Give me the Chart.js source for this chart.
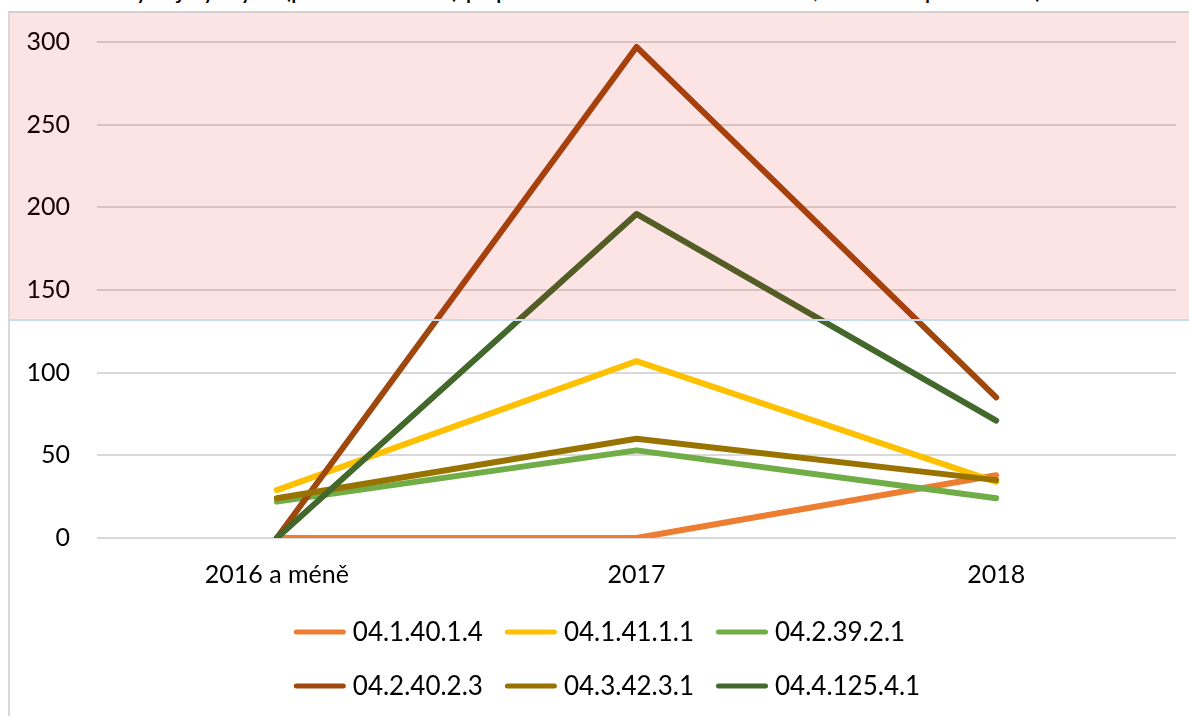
<!DOCTYPE html>
<html lang="cs">
<head>
<meta charset="UTF-8">
<title>Graf</title>
<script src="https://cdn.jsdelivr.net/npm/chart.js@4.4.0/dist/chart.umd.min.js"></script>
<style>
  html, body { margin: 0; padding: 0; background: #fff; overflow: hidden; }
  #wrap { position: absolute; left: 0; top: 0; width: 1189px; height: 716px; }
  #frame { position: absolute; left: 8px; top: 11px; right: -10px; bottom: -10px;
           border-left: 2px solid #d9d9d9; border-top: 2px solid #d0d0d0; pointer-events: none; }
  #pink { position: absolute; left: 10px; top: 13px; width: 1179px; height: 306px;
          background: rgba(235, 0, 0, 0.106); border-bottom: 2px solid #c5dcf0; pointer-events: none; }
  #title { position: absolute; left: 10px; top: -25px; font: 26px Lato; line-height: 26px;
           white-space: nowrap; color: #000; }
</style>
</head>
<body>
<div id="title">Graf č. 5: Vývoj výskytu (počet událostí) případů v období 2016 – 2018, dle roku přihlášení)</div>
<div id="wrap"><canvas id="chart"></canvas></div>
<div id="frame"></div>
<div id="pink"></div>

<script>
// categories + series
const categories = ['2016 a méně', '2017', '2018'];
const seriesNames = ['04.1.40.1.4', '04.1.41.1.1', '04.2.39.2.1', '04.2.40.2.3', '04.3.42.3.1', '04.4.125.4.1'];
const s_04_1_40_1_4  = [0, 0, 38];
const s_04_1_41_1_1  = [29, 107, 34];
const s_04_2_39_2_1  = [22, 53, 24];
const s_04_2_40_2_3  = [0, 297, 85];
const s_04_3_42_3_1  = [24, 60, 35];
const s_04_4_125_4_1 = [0, 196, 71];
const yTicks = [0, 50, 100, 150, 200, 250, 300];

const seriesValues = [s_04_1_40_1_4, s_04_1_41_1_1, s_04_2_39_2_1, s_04_2_40_2_3, s_04_3_42_3_1, s_04_4_125_4_1];
const colors = ['#ED7D31', '#FFC000', '#70AD47', '#9E480E', '#997300', '#43682B'];

Chart.defaults.font.family = 'Lato';
Chart.defaults.font.size = 25;
Chart.defaults.color = '#000';

// legend in two rows of three, like the Excel one
const rowLegend = {
    id: 'rowLegend',
    afterDraw(chart) {
        const ctx = chart.ctx;
        const sets = chart.data.datasets;
        const perRow = 3, sample = 52, gap = 7, colGap = 22;
        ctx.save();
        ctx.font = '26px Lato';
        ctx.textBaseline = 'middle';
        ctx.fillStyle = '#000';
        const colW = [];
        sets.forEach((d, i) => {
            const c = i % perRow;
            colW[c] = Math.max(colW[c] || 0, sample + gap + ctx.measureText(d.label).width + colGap);
        });
        const total = colW.reduce((a, b) => a + b, 0) - colGap;
        const x0 = 607 - total / 2;
        sets.forEach((d, i) => {
            const c = i % perRow, r = Math.floor(i / perRow);
            let x = x0;
            for (let k = 0; k < c; k++) x += colW[k];
            const y = 632 + r * 54;
            ctx.strokeStyle = d.borderColor;
            ctx.lineWidth = 5;
            ctx.lineCap = 'round';
            ctx.beginPath();
            ctx.moveTo(x + 2.5, y);
            ctx.lineTo(x + sample - 2.5, y);
            ctx.stroke();
            ctx.fillText(d.label, x + sample + gap, y + 1);
        });
        ctx.restore();
    }
};

new Chart(document.getElementById('chart'), {
    type: 'line',
    data: {
        labels: categories,
        datasets: seriesNames.map((name, i) => ({
            label: name,
            data: seriesValues[i],
            borderColor: colors[i],
            backgroundColor: colors[i],
            borderWidth: 6,
            borderCapStyle: 'round',
            borderJoinStyle: 'round',
            pointRadius: 0,
            fill: false,
            tension: 0,
            order: seriesNames.length - i
        }))
    },
    options: {
        responsive: true,
        maintainAspectRatio: false,
        animation: false,
        layout: { padding: { left: 10, top: 42, right: 13, bottom: 98 } },
        plugins: {
            legend: { display: false },
            tooltip: { enabled: false }
        },
        scales: {
            x: {
                offset: true,
                grid: { display: false, drawTicks: false },
                border: { display: false },
                ticks: { padding: 22, maxRotation: 0 },
                afterFit(scale) { scale.height = 80; }
            },
            y: {
                min: 0,
                max: 300,
                grid: { color: '#d9d9d9', lineWidth: 2, drawTicks: false },
                border: { display: false },
                ticks: {
                    padding: 27,
                    stepSize: 50,
                    callback: (v) => yTicks.includes(v) ? v : ''
                },
                afterFit(scale) { scale.width = 87; }
            }
        }
    },
    plugins: [rowLegend]
});
</script>
</body>
</html>
